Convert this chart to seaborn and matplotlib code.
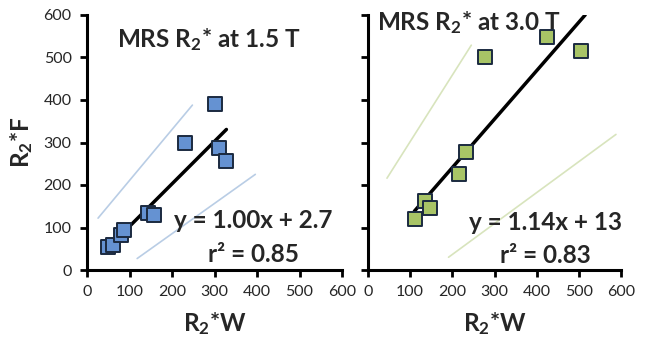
import numpy as np
import pandas as pd
import matplotlib
matplotlib.use("Agg")
import matplotlib.pyplot as plt
import seaborn as sns

# --- data ---
w_15 = [50, 60, 80, 88, 143, 158, 230, 300, 311, 326]
f_15 = [55, 60, 82, 95, 133, 130, 298, 390, 286, 256]
w_30 = [112, 134, 146, 216, 232, 277, 425, 506]
f_30 = [120, 162, 145, 227, 278, 500, 548, 515]

# slope, intercept, r^2 and the x span of each trend line
fit_15 = (1.00, 2.7, 0.85)
fit_30 = (1.14, 13, 0.83)
line_x_15 = [47, 328]
line_x_30 = [110, 515]

# light limit lines (endpoints)
band_15_up_x, band_15_up_y = [26, 248], [122, 388]
band_15_lo_x, band_15_lo_y = [118, 396], [27, 225]
band_30_up_x, band_30_up_y = [45, 245], [216, 529]
band_30_lo_x, band_30_lo_y = [191, 588], [30, 319]

ticks = [0, 100, 200, 300, 400, 500, 600]

sns.set_style("ticks")
plt.rcParams["font.family"] = ["Lato", "DejaVu Sans"]
plt.rcParams["mathtext.fontset"] = "custom"
plt.rcParams["mathtext.rm"] = "Lato:bold"
plt.rcParams["mathtext.it"] = "Lato:bold"
plt.rcParams["mathtext.bf"] = "Lato:bold"

BIG = 17.5

fig = plt.figure(figsize=(6.45, 3.41), dpi=100)
ax1 = fig.add_axes([87 / 645, 71 / 341, 255 / 645, 255 / 341])
ax2 = fig.add_axes([368 / 645, 71 / 341, 253 / 645, 255 / 341])


def draw_panel(ax, w, f, fit, line_x, up, lo, fill, band_col,
               title, title_xy, eq_xy, r2_xy):
    slope, icpt, r2 = fit
    sns.lineplot(x=up[0], y=up[1], ax=ax, color=band_col, lw=1.2)
    sns.lineplot(x=lo[0], y=lo[1], ax=ax, color=band_col, lw=1.2)
    xs = np.array(line_x)
    sns.lineplot(x=xs, y=slope * xs + icpt, ax=ax, color="black", lw=2.5,
                 zorder=3)
    df = pd.DataFrame({"w": w, "f": f})
    sns.scatterplot(data=df, x="w", y="f", ax=ax, marker="s", s=95,
                    color=fill, edgecolor="#1b2a40", linewidth=1.4, zorder=4)
    ax.set_xlim(0, 600)
    ax.set_ylim(0, 600)
    ax.set_xticks(ticks)
    ax.set_yticks(ticks)
    for sp in ["top", "right"]:
        ax.spines[sp].set_visible(False)
    for sp in ["left", "bottom"]:
        ax.spines[sp].set_linewidth(2.2)
        ax.spines[sp].set_color("black")
    ax.tick_params(width=2, length=5, labelsize=11.5, color="black", pad=6)
    ax.set_xlabel(r"R$_2$*W", fontsize=BIG, fontweight="bold", labelpad=8)
    ax.text(title_xy[0], title_xy[1], title, transform=ax.transAxes,
            fontsize=BIG, fontweight="bold", ha="left", va="baseline")
    ax.text(eq_xy[0], eq_xy[1], f"y = {slope:.2f}x + {icpt:g}",
            transform=ax.transAxes, fontsize=BIG, fontweight="bold",
            ha="center", va="baseline", clip_on=False)
    ax.text(r2_xy[0], r2_xy[1], f"r² = {r2:.2f}",
            transform=ax.transAxes, fontsize=BIG, fontweight="bold",
            ha="center", va="baseline", clip_on=False)


draw_panel(ax1, w_15, f_15, fit_15, line_x_15,
           (band_15_up_x, band_15_up_y), (band_15_lo_x, band_15_lo_y),
           "#6592d2", "#b9cde5", r"MRS R$_2$* at 1.5 T",
           (0.118, 0.875), (0.651, 0.165), (0.651, 0.031))
draw_panel(ax2, w_30, f_30, fit_30, line_x_30,
           (band_30_up_x, band_30_up_y), (band_30_lo_x, band_30_lo_y),
           "#a8c466", "#d8e4bd", r"MRS R$_2$* at 3.0 T",
           (0.036, 0.94), (0.70, 0.157), (0.70, 0.027))

ax1.set_ylabel(r"R$_2$*F", fontsize=BIG, fontweight="bold", labelpad=6)
ax2.set_ylabel("")
ax2.set_yticklabels([])

fig.savefig("out.png", dpi=100)
